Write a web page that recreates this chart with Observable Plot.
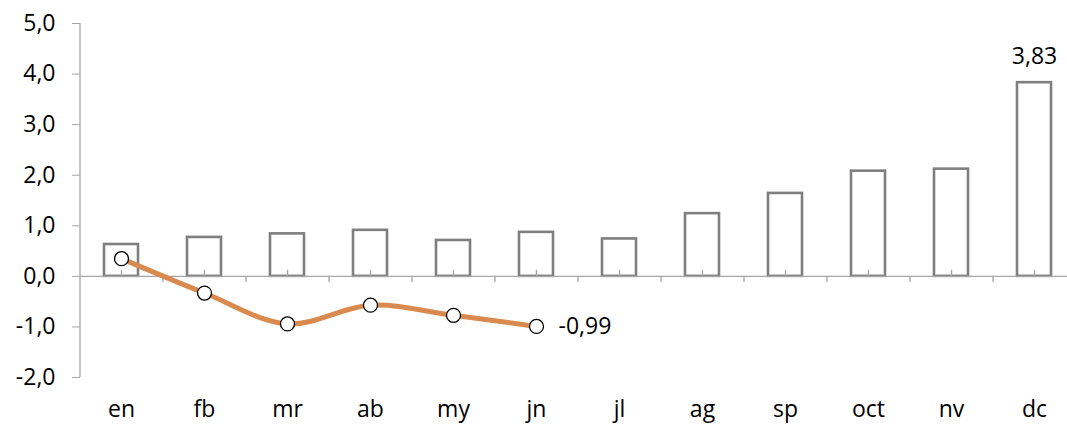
<!DOCTYPE html>
<html><head><meta charset="utf-8">
<script src="https://cdn.jsdelivr.net/npm/d3@7"></script>
<script src="https://cdn.jsdelivr.net/npm/@observablehq/plot@0.6"></script>
<style>body{margin:0;background:#fff;} svg{display:block;}</style>
</head><body><div id="chart"></div>
<script>
const months = ["en","fb","mr","ab","my","jn","jl","ag","sp","oct","nv","dc"];
const barValues = [0.63,0.77,0.84,0.91,0.71,0.87,0.74,1.24,1.64,2.08,2.12,3.83];
const lineMonths = ["en","fb","mr","ab","my","jn"];
const lineValues = [0.35,-0.33,-0.94,-0.57,-0.77,-0.99];
const yTicks = [-2,-1,0,1,2,3,4,5];

const bars = months.map((m,i)=>({m, v: barValues[i]}));
const line = lineMonths.map((m,i)=>({m, v: lineValues[i]}));
const fmt1 = d => d.toFixed(1).replace(".", ",");
const fmt2 = d => d.toFixed(2).replace(".", ",");
const grey = "#a6a6a6";

const chart = Plot.plot({
  width: 1067, height: 425,
  marginTop: 23, marginBottom: 48, marginLeft: 80, marginRight: 0,
  style: {fontFamily: "'Open Sans', sans-serif", fontSize: "23px", color: "#000", background: "#fff"},
  x: {type: "band", domain: months, range: [80, 1076], paddingInner: 0.59, paddingOuter: 0.295, label: null},
  y: {domain: [-2, 5], label: null},
  marks: [
    Plot.ruleX([months[0]], {x: d => d, y1: -2, y2: 5, dx: -41.5, stroke: grey, strokeWidth: 1.3}),
    Plot.axisY({ticks: yTicks, tickFormat: fmt1, tickSize: 8, tickPadding: 17, stroke: grey, fill: "#000", fontSize: 23}),
    Plot.axisX({tickSize: 0, tickPadding: 23, fill: "#000", fontSize: 23}),
    Plot.barY(bars, {x: "m", y: "v", fill: "#fff", stroke: "#7f7f7f", strokeWidth: 2.6}),
    Plot.ruleY([0], {stroke: grey, strokeWidth: 1.3}),
    Plot.ruleX(months, {x: d => d, y1: 0, y2: 0.12, stroke: grey, strokeWidth: 1.3}),
    Plot.ruleX(months.slice(1), {x: d => d, y1: 0, y2: -0.12, dx: -41.5, stroke: grey, strokeWidth: 1.3}),
    Plot.line(line, {x: "m", y: "v", curve: "catmull-rom", stroke: "#d98b4f", strokeWidth: 5}),
    Plot.dot(line, {x: "m", y: "v", r: 7, fill: "#fff", stroke: "#000", strokeWidth: 1.3}),
    Plot.text(bars.slice(-1), {x: "m", y: "v", text: d => fmt2(d.v), dy: -26, fontSize: 23, fill: "#000"}),
    Plot.text(line.slice(-1), {x: "m", y: "v", text: d => fmt2(d.v), dx: 22, textAnchor: "start", fontSize: 23, fill: "#000"})
  ]
});
document.getElementById("chart").appendChild(chart);
</script></body></html>
